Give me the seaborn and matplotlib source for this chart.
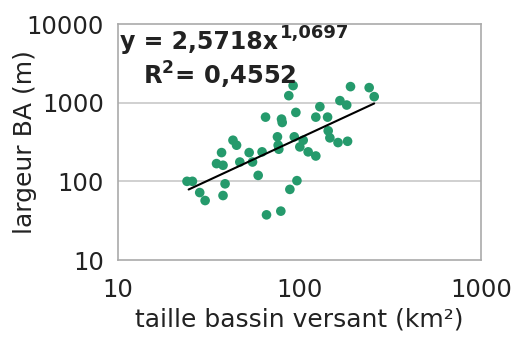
import numpy as np
import pandas as pd
import matplotlib
matplotlib.use("Agg")
import matplotlib.pyplot as plt
import seaborn as sns

# Data (basin size km², BA width m)
taille_bv = [24.0, 25.7, 28.2, 30.2, 37.9, 38.9, 34.9, 37.2, 37.9, 43.0,
             45.0, 46.9, 52.8, 55.1, 59.2, 62.2, 65.0, 65.8, 75.6, 76.3,
             76.9, 79.6, 80.3, 78.9, 87.3, 92.2, 95.5, 93.6, 88.5, 96.8,
             100.4, 104.8, 111.6, 123.0, 123.0, 129.5, 142.8, 143.9, 147.0, 163.0,
             167.0, 182.0, 184.0, 191.0, 242.0, 258.0]
largeur_ba = [100, 100, 72, 57, 66, 93, 168, 232, 160, 333,
              288, 176, 232, 176, 119, 237, 655, 37.5, 368, 288,
              256, 618, 560, 41.8, 1228, 1648, 752, 368, 79, 102,
              274, 333, 237, 210, 655, 889, 655, 439, 357, 311,
              1061, 933, 323, 1600, 1553, 1193]

# Power trend parameters (as displayed)
coef_a = 2.5718
expo_b = 1.0697
x_tick_vals = [10, 100, 1000]
y_tick_vals = [10, 100, 1000, 10000]
x_tick_labels = ["10", "100", "1000"]
y_tick_labels = ["10", "100", "1000", "10000"]

df = pd.DataFrame({"x": taille_bv, "y": largeur_ba})
xs = np.logspace(np.log10(24.5), np.log10(max(taille_bv)), 50)
trend = pd.DataFrame({"x": xs, "y": coef_a * xs ** expo_b})

sns.set_style("white")
plt.rcParams["font.family"] = ["DejaVu Sans"]

fig = plt.figure(figsize=(5.11, 3.40), dpi=100)
ax = fig.add_axes([118 / 511, 1 - 260 / 340, (481 - 118) / 511, (260 - 24) / 340])

sns.scatterplot(data=df, x="x", y="y", ax=ax, color="#259A6C", s=48,
                edgecolor="none", zorder=3)
sns.lineplot(data=trend, x="x", y="y", ax=ax, color="black", lw=1.5, zorder=4)

ax.set_xscale("log")
ax.set_yscale("log")
ax.set_xlim(10, 1000)
ax.set_ylim(10, 10000)
ax.set_xticks(x_tick_vals)
ax.set_xticklabels(x_tick_labels)
ax.set_yticks(y_tick_vals)
ax.set_yticklabels(y_tick_labels)
ax.minorticks_off()
ax.tick_params(axis="both", labelsize=17.5, length=5, width=1,
               direction="out", labelcolor="#222222", color="#999999")
ax.tick_params(axis="y", pad=5)
ax.tick_params(axis="x", pad=8)
for sp in ax.spines.values():
    sp.set_color("#aaaaaa")
    sp.set_linewidth(1.2)
for yv in [100, 1000]:
    ax.axhline(yv, color="#c8c8c8", lw=1.2, zorder=1)

ax.set_xlabel("taille bassin versant (km²)", fontsize=18, color="#222222")
ax.set_ylabel("largeur BA (m)", fontsize=18, color="#222222")
ax.xaxis.set_label_coords(0.5, -0.20)
ax.yaxis.set_label_coords(-0.222, 0.5)

ax.text(0.005, 0.895, "y = 2,5718x", transform=ax.transAxes, fontsize=17,
        fontweight="bold", color="#222222", va="baseline", ha="left")
ax.text(0.445, 0.94, "1,0697", transform=ax.transAxes, fontsize=13,
        fontweight="bold", color="#222222", va="baseline", ha="left")
ax.text(0.068, 0.745, "R$^{\\mathbf{2}}$= 0,4552", transform=ax.transAxes, fontsize=17.5,
        fontweight="bold", color="#222222", va="baseline", ha="left")

fig.savefig("out.png", dpi=100)
